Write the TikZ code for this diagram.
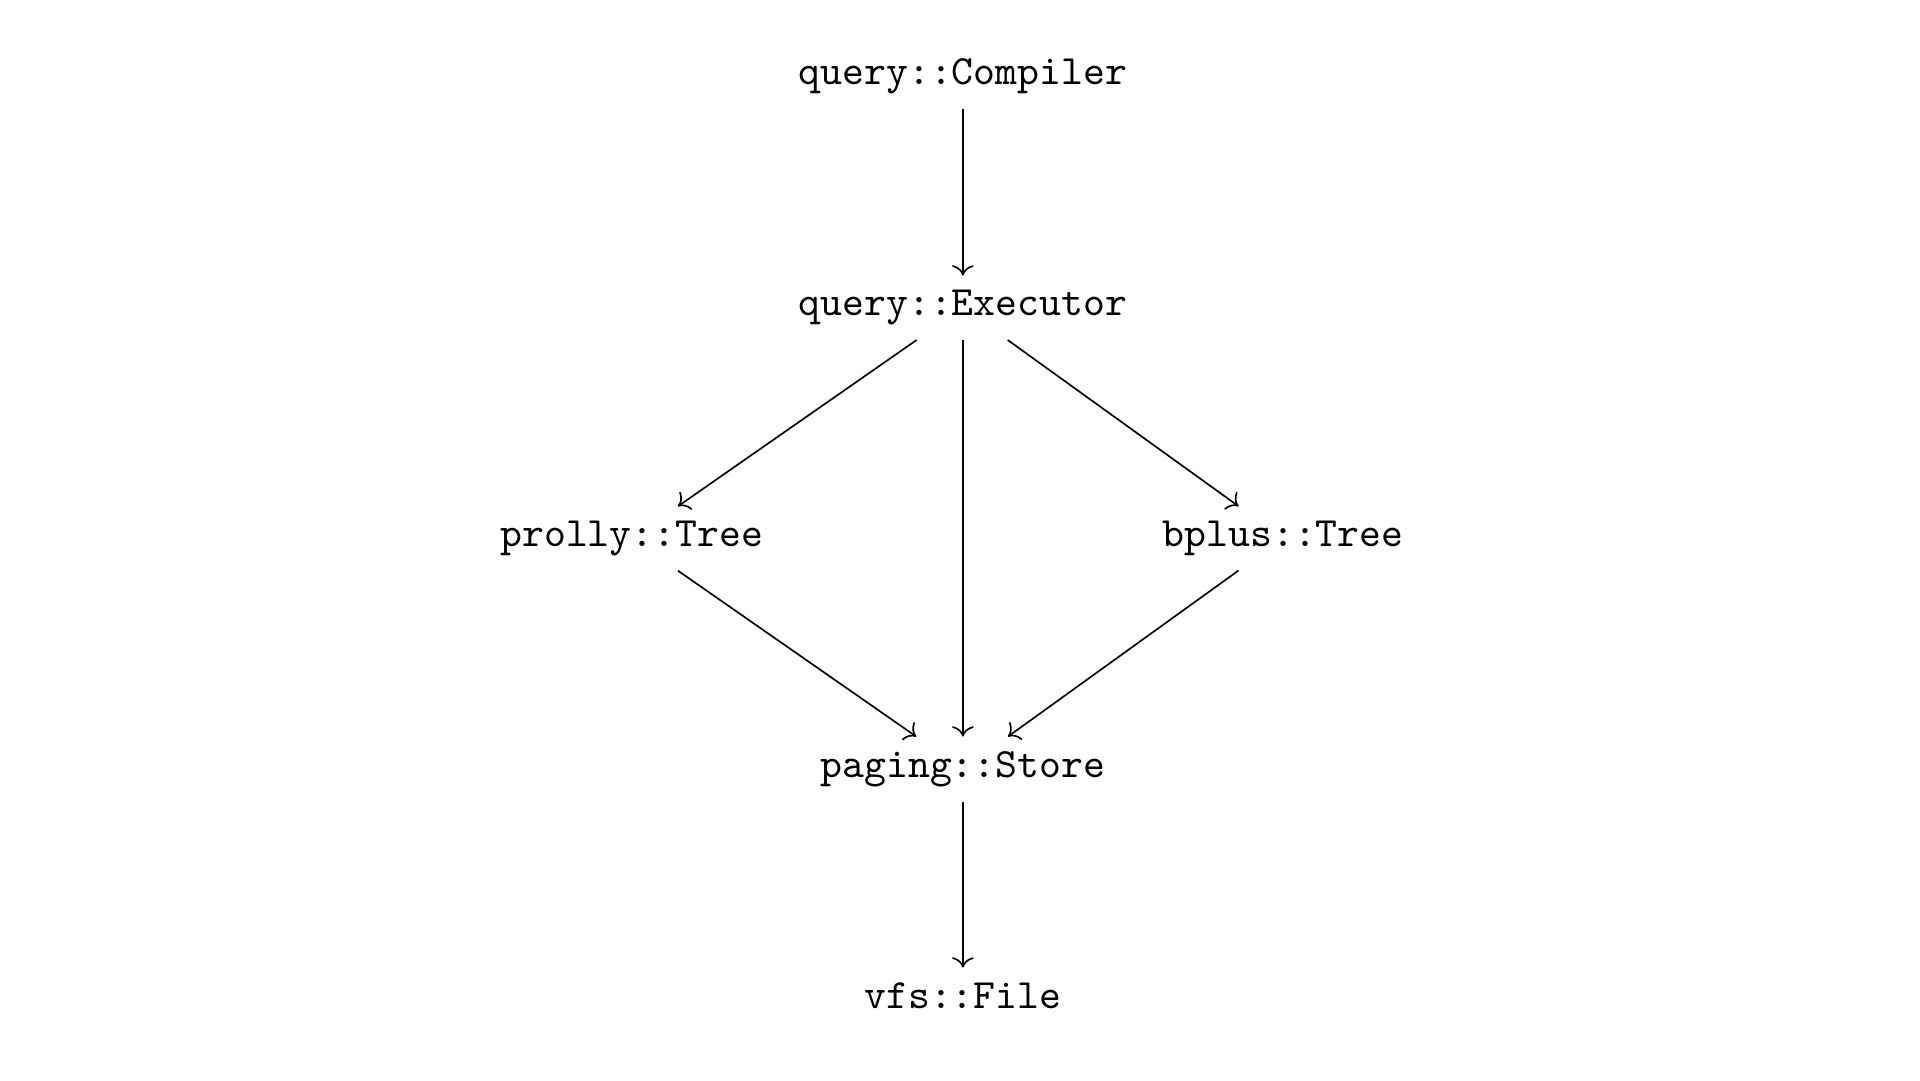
\documentclass[tikz,border=0pt]{standalone}
\usepackage{tikz}
\usetikzlibrary{arrows.meta}

\begin{document}
\begin{tikzpicture}

  \useasboundingbox (-8.116,0.716) rectangle (8.067,-8.387);

  \coordinate (X) at (0,0);

  % node styles
  \tikzstyle{Mod}=[
  anchor=base,
  font=\ttfamily,
  inner sep=0.3333em,
  shape=rectangle]

  \tikzstyle{Uses}=[-{Computer Modern Rightarrow}]

  \draw (X) node[Mod] (C) at +( 0.00,  0.00) {query::Compiler};
  \draw (X) node[Mod] (E) at +( 0.00, -1.945) {query::Executor};

  \draw (X) node[Mod,anchor=base east] (P) at +(-1.56, -3.89) {prolly::Tree};
  \draw (X) node[Mod,anchor=base west] (B) at +( 1.56, -3.89) {bplus::Tree};

  \draw (X) node[Mod] (S) at +( 0.00, -5.835) {paging::Store};
  \draw (X) node[Mod] (F) at +( 0.00, -7.78) {vfs::File};

  \draw[Uses] (C) -- (E);
  \draw[Uses] (E) -- (P);
  \draw[Uses] (E) -- (S);
  \draw[Uses] (E) -- (B);
  \draw[Uses] (P) -- (S);
  \draw[Uses] (B) -- (S);
  \draw[Uses] (S) -- (F);

\end{tikzpicture}
\end{document}
